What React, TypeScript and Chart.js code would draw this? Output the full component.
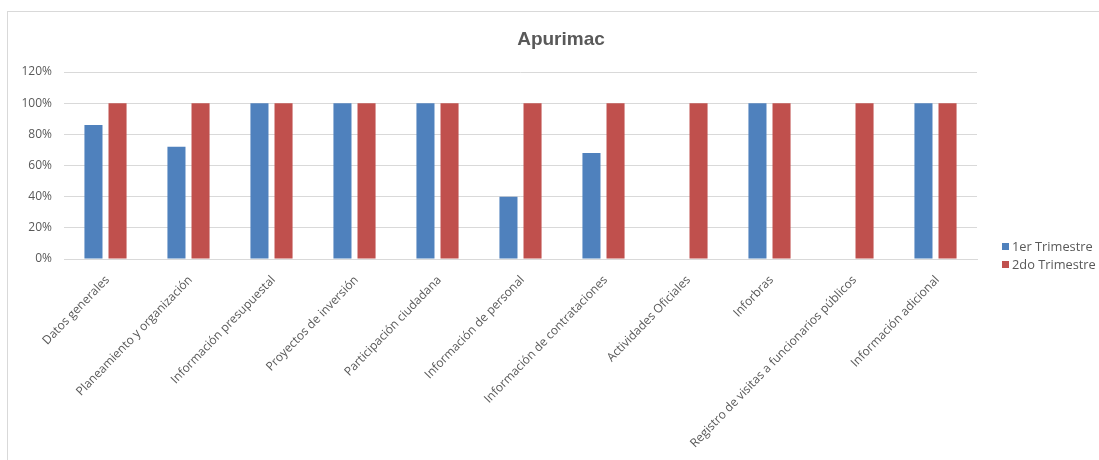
import React, { useEffect, useRef } from "react";
import { Chart, registerables } from "chart.js";

Chart.register(...registerables);

const categories = [
  "Datos generales",
  "Planeamiento y organización",
  "Información presupuestal",
  "Proyectos de inversión",
  "Participación ciudadana",
  "Información de personal",
  "Información de contrataciones",
  "Actividades Oficiales",
  "Inforbras",
  "Registro de visitas a funcionarios públicos",
  "Información adicional",
];

const trimestre1 = [0.86, 0.72, 1, 1, 1, 0.4, 0.68, 0, 1, 0, 1];
const trimestre2 = [1, 1, 1, 1, 1, 1, 1, 1, 1, 1, 1];

const seriesNames = ["1er Trimestre", "2do Trimestre"];
const seriesColors = ["#4F81BD", "#C0504D"];
const yTicks = [0, 0.2, 0.4, 0.6, 0.8, 1, 1.2];
const chartTitle = "Apurimac";

const FONT = "'Open Sans', 'Liberation Sans', Arial, sans-serif";
const TITLE_FONT = "'Liberation Sans', Arial, sans-serif";
const GRAY = "#595959";

const overlayPlugin = {
  id: "overlay",
  afterDraw(chart: any) {
    const ctx = chart.ctx;
    ctx.save();
    // title
    ctx.fillStyle = GRAY;
    ctx.font = `bold 19px ${TITLE_FONT}`;
    ctx.textAlign = "center";
    ctx.textBaseline = "middle";
    ctx.fillText(chartTitle, 561, 40);
    // legend
    ctx.font = `12.8px ${FONT}`;
    ctx.textAlign = "left";
    chart.data.datasets.forEach((ds: any, i: number) => {
      const cy = 246.5 + i * 18;
      ctx.fillStyle = ds.backgroundColor;
      ctx.fillRect(1002, cy - 3.5, 7, 7);
      ctx.fillStyle = GRAY;
      ctx.fillText(ds.label, 1012, cy + 0.5);
    });
    ctx.restore();
  },
};

export default function App() {
  const canvasRef = useRef<HTMLCanvasElement | null>(null);

  useEffect(() => {
    if (!canvasRef.current) return;
    const chart = new Chart(canvasRef.current, {
      type: "bar",
      data: {
        labels: categories,
        datasets: [
          {
            label: seriesNames[0],
            data: trimestre1,
            backgroundColor: seriesColors[0],
            categoryPercentage: 0.58,
            barPercentage: 0.75,
          },
          {
            label: seriesNames[1],
            data: trimestre2,
            backgroundColor: seriesColors[1],
            categoryPercentage: 0.58,
            barPercentage: 0.75,
          },
        ],
      },
      options: {
        animation: false,
        responsive: false,
        maintainAspectRatio: false,
        layout: { padding: { top: 72, right: 122, left: 0, bottom: 0 } },
        plugins: {
          legend: { display: false },
          title: { display: false },
          tooltip: { enabled: false },
        },
        scales: {
          x: {
            grid: { display: false, drawTicks: false },
            border: { color: "#d9d9d9", width: 1 },
            ticks: {
              autoSkip: false,
              maxRotation: 46,
              minRotation: 46,
              padding: 14,
              labelOffset: 2,
              color: GRAY,
              font: { family: FONT, size: 12 },
            },
            afterFit(scale: any) {
              scale.height = 201;
            },
          },
          y: {
            min: 0,
            max: 1.2,
            afterBuildTicks(scale: any) {
              scale.ticks = yTicks.map((v) => ({ value: v }));
            },
            grid: { color: "#d9d9d9", lineWidth: 1, drawTicks: false },
            border: { display: false },
            ticks: {
              padding: 12,
              color: GRAY,
              font: { family: FONT, size: 12 },
              callback: (v: any) => `${Math.round(Number(v) * 100)}%`,
            },
            afterFit(scale: any) {
              scale.width = 64;
            },
          },
        },
      },
      plugins: [overlayPlugin],
    } as any);
    return () => chart.destroy();
  }, []);

  return (
    <div
      style={{
        position: "absolute",
        left: 0,
        top: 0,
        width: 1099,
        height: 460,
        overflow: "hidden",
        background: "#ffffff",
      }}
    >
      <div
        style={{
          position: "absolute",
          left: 7,
          top: 11,
          width: 1110,
          height: 470,
          border: "1px solid #d9d9d9",
          boxSizing: "border-box",
        }}
      />
      <canvas
        ref={canvasRef}
        width={1099}
        height={460}
        style={{ position: "absolute", left: 0, top: 0 }}
      />
    </div>
  );
}
